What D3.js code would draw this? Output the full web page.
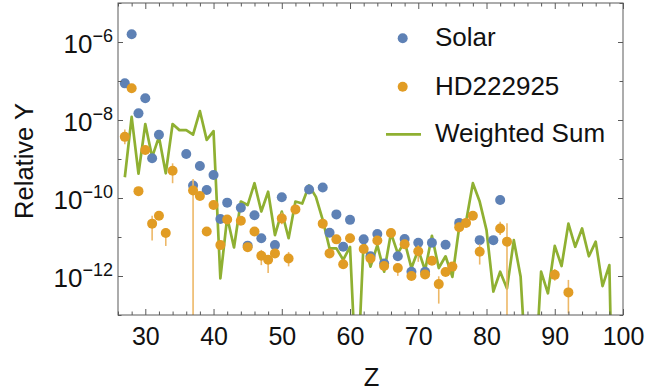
<!DOCTYPE html>
<html>
<head>
<meta charset="utf-8">
<script src="https://cdn.jsdelivr.net/npm/d3@7"></script>
<style>
  html, body { margin: 0; padding: 0; background: #fff; }
  svg { display: block; font-family: "Liberation Sans", Arial, sans-serif; }
</style>
</head>
<body>
<svg id="chart" width="671" height="392"></svg>
<script>
// Solar abundances (atomic number, relative Y)
const solarZ = [27, 28, 29, 30, 31, 32, 36, 37, 38, 39, 40, 41, 42, 44, 45, 46, 47, 49, 50, 54,
                56, 57, 58, 59, 60, 62, 63, 64, 65, 67, 68, 69, 70, 71, 72, 74, 76, 79, 81, 82];
const solarY = [8.7e-8, 1.58e-6, 1.48e-8, 3.6e-8, 1.05e-9, 4.2e-9, 1.35e-9, 2.1e-10, 6.6e-10, 1.6e-10,
                3.9e-10, 2.9e-11, 7.6e-11, 5.6e-11, 6.0e-12, 3.6e-11, 9.3e-12, 6.2e-12, 1.05e-10, 1.66e-10,
                1.86e-10, 1.29e-11, 3.8e-11, 5.6e-12, 2.75e-11, 8.7e-12, 3.2e-12, 1.2e-11, 2.1e-12, 3.2e-12,
                8.9e-12, 1.29e-12, 7.1e-12, 1.29e-12, 7.1e-12, 6.3e-12, 2.3e-11, 8.3e-12, 8.3e-12, 8.9e-11];

// HD222925 abundances with uncertainties (dex below / above)
const starZ = [27, 28, 29, 30, 31, 32, 33, 34, 37, 38, 39, 40, 41, 42, 44, 45, 46, 47, 48, 49,
               50, 51, 52, 56, 57, 58, 59, 60, 62, 63, 64, 65, 66, 67, 68, 69, 70, 71, 72, 73,
               74, 75, 76, 77, 78, 79, 82, 83, 90, 92];
const starY = [3.7e-9, 6.5e-8, 1.5e-10, 1.7e-9, 2.2e-11, 3.5e-11, 1.26e-11, 5.0e-10, 1.55e-10, 1.12e-10,
               1.38e-11, 6.6e-11, 6.2e-12, 2.8e-11, 2.6e-11, 5.5e-12, 1.38e-11, 3.3e-12, 2.6e-12, 3.8e-12,
               3.0e-11, 2.8e-12, 5.1e-11, 2.2e-11, 3.8e-12, 8.7e-12, 2.0e-12, 9.3e-12, 4.9e-12, 2.8e-12,
               8.1e-12, 1.8e-12, 1.26e-11, 1.6e-12, 6.5e-12, 1.0e-12, 4.3e-12, 1.1e-12, 2.45e-12, 6.2e-13,
               1.26e-12, 1.74e-12, 1.78e-11, 2.3e-11, 3.5e-11, 4.2e-12, 1.66e-11, 7.6e-12, 1.07e-12, 3.8e-13];
const starErrLo = [0.19, 0.1, 0.1, 0.1, 0.43, 0.1, 0.33, 0.32, 6, 0.1,
                   0.1, 0.1, 0.1, 0.1, 0.1, 0.1, 0.1, 0.24, 0.34, 0.1,
                   0.15, 0.2, 0.1, 0.1, 0.1, 0.1, 0.1, 0.1, 0.1, 0.1,
                   0.1, 0.1, 0.1, 0.2, 0.1, 0.1, 0.27, 0.1, 0.1, 0.5,
                   0.1, 0.1, 0.1, 0.1, 0.1, 0.33, 0.17, 6, 0.15, 0.54];
const starErrHi = [0.19, 0.1, 0.1, 0.1, 0.2, 0.1, 0.13, 0.19, 0.3, 0.1,
                   0.1, 0.1, 0.1, 0.1, 0.1, 0.1, 0.1, 0.15, 0.1, 0.1,
                   0.15, 0.17, 0.1, 0.1, 0.1, 0.1, 0.1, 0.1, 0.1, 0.1,
                   0.1, 0.1, 0.1, 0.1, 0.1, 0.1, 0.15, 0.1, 0.1, 0.2,
                   0.1, 0.1, 0.1, 0.1, 0.1, 0.19, 0.17, 0.47, 0.15, 0.32];

// Weighted sum of the model components
const sumZ = [27, 28, 29, 30, 31, 32, 33, 34, 35, 36, 37, 38, 39, 40, 41, 42, 43, 44, 45, 46,
              47, 48, 49, 50, 51, 52, 53, 54, 55, 56, 57, 58, 59, 60, 61, 62, 63, 64, 65, 66,
              67, 68, 69, 70, 71, 72, 73, 74, 75, 76, 77, 78, 79, 80, 81, 82, 83, 84, 85, 86,
              87, 88, 89, 90, 91, 92, 93, 94, 95, 96, 97, 98, 99];
const sumY = [3.4e-10, 1.2e-8, 4.2e-10, 7.9e-9, 1.12e-9, 3.7e-9, 4.3e-10, 7.9e-9, 5.5e-9, 5.5e-9,
              4.2e-9, 1.7e-8, 3.1e-9, 5.2e-9, 8.7e-13, 3.2e-11, 5.4e-12, 8.1e-11, 6.6e-11, 2.4e-10,
              4.5e-11, 1.45e-10, 1.12e-11, 4.5e-11, 9.3e-12, 8.1e-11, 7.2e-11, 2.1e-10, 1.07e-10, 2.75e-11,
              5.1e-12, 5.1e-12, 2.6e-12, 5.6e-12, 1e-15, 8.3e-12, 1.74e-12, 6.2e-12, 1.29e-12, 1.26e-11,
              3.8e-12, 7.6e-12, 1.6e-12, 4.7e-12, 1.4e-12, 1.07e-11, 1.6e-12, 3.2e-12, 9.5e-13, 1.8e-11,
              2.45e-11, 2.4e-10, 8.1e-11, 1.5e-11, 4.0e-13, 1.29e-12, 4.8e-13, 8.3e-12, 9.5e-13, 1e-15,
              1e-15, 1.29e-12, 3.6e-13, 5.9e-12, 1.8e-12, 2.2e-11, 5.6e-12, 1.66e-11, 3.2e-12, 7.6e-12,
              5.5e-13, 1.9e-12, 1e-20];

const xMajorTicks = [30, 40, 50, 60, 70, 80, 90, 100];
const xMinorTicks = [26, 28, 32, 34, 36, 38, 42, 44, 46, 48, 52, 54, 56, 58, 62, 64, 66, 68,
                     72, 74, 76, 78, 82, 84, 86, 88, 92, 94, 96, 98];
const yLabelExponents = [-12, -10, -8, -6];
const yMinorExponents = [-13, -11, -9, -7, -5];
const legendLabels = ["Solar", "HD222925", "Weighted Sum"];

const colors = { solar: "#5E81B5", star: "#E19C24", sum: "#8FB032", err: "#EDB867", frame: "#5a5a5a" };

const svg = d3.select("#chart");
const L = 118, R = 623, T = 3, B = 315;

const x = d3.scaleLinear().domain([26, 100]).range([L, R]);
const y = d3.scaleLog().domain([1e-13, 1e-5]).range([B, T]);

svg.append("defs").append("clipPath").attr("id", "plot-clip")
  .append("rect").attr("x", L).attr("y", T).attr("width", R - L).attr("height", B - T);

const plot = svg.append("g").attr("clip-path", "url(#plot-clip)");

// weighted sum line
const sumData = sumZ.map((z, i) => [z, sumY[i]]);
plot.append("path")
  .datum(sumData)
  .attr("fill", "none")
  .attr("stroke", colors.sum)
  .attr("stroke-width", 2.7)
  .attr("stroke-linejoin", "round")
  .attr("d", d3.line().x(d => x(d[0])).y(d => y(d[1])));

// solar points
plot.append("g").selectAll("circle")
  .data(solarZ.map((z, i) => [z, solarY[i]]))
  .join("circle")
  .attr("cx", d => x(d[0]))
  .attr("cy", d => y(d[1]))
  .attr("r", 5)
  .attr("fill", colors.solar);

// HD222925 error bars and points
const starData = starZ.map((z, i) => ({ z, v: starY[i], lo: starErrLo[i], hi: starErrHi[i] }));
plot.append("g").selectAll("line")
  .data(starData)
  .join("line")
  .attr("x1", d => x(d.z)).attr("x2", d => x(d.z))
  .attr("y1", d => y(d.v * Math.pow(10, d.hi)))
  .attr("y2", d => Math.min(B + 5, y(d.v * Math.pow(10, -d.lo))))
  .attr("stroke", colors.err)
  .attr("stroke-width", 1.6);

plot.append("g").selectAll("circle")
  .data(starData)
  .join("circle")
  .attr("cx", d => x(d.z))
  .attr("cy", d => y(d.v))
  .attr("r", 5)
  .attr("fill", colors.star);

// frame
svg.append("rect")
  .attr("x", L).attr("y", T).attr("width", R - L).attr("height", B - T)
  .attr("fill", "none").attr("stroke", colors.frame).attr("stroke-width", 1);

// ticks (drawn inward on all four sides)
function styleAxis(g) {
  g.select(".domain").remove();
  g.selectAll(".tick line").attr("stroke", colors.frame).attr("stroke-width", 1);
}
const fmtNone = () => "";

svg.append("g").attr("transform", `translate(0,${B})`)
  .call(d3.axisBottom(x).tickValues(xMajorTicks).tickSize(-6).tickPadding(12))
  .call(styleAxis)
  .call(g => g.selectAll(".tick text")
    .attr("fill", "#111").attr("font-size", 25)
    .attr("font-family", "'Liberation Sans', Arial, sans-serif"));
svg.append("g").attr("transform", `translate(0,${B})`)
  .call(d3.axisBottom(x).tickValues(xMinorTicks).tickSize(-3.5).tickFormat(fmtNone))
  .call(styleAxis);
svg.append("g").attr("transform", `translate(0,${T})`)
  .call(d3.axisTop(x).tickValues(xMajorTicks).tickSize(-6).tickFormat(fmtNone))
  .call(styleAxis);
svg.append("g").attr("transform", `translate(0,${T})`)
  .call(d3.axisTop(x).tickValues(xMinorTicks).tickSize(-3.5).tickFormat(fmtNone))
  .call(styleAxis);

const yMajorVals = yLabelExponents.map(e => Math.pow(10, e));
const yMinorVals = yMinorExponents.map(e => Math.pow(10, e));

svg.append("g").attr("transform", `translate(${L},0)`)
  .call(d3.axisLeft(y).tickValues(yMajorVals).tickSize(-5).tickFormat(fmtNone))
  .call(styleAxis);
svg.append("g").attr("transform", `translate(${L},0)`)
  .call(d3.axisLeft(y).tickValues(yMinorVals).tickSize(-3.5).tickFormat(fmtNone))
  .call(styleAxis);
svg.append("g").attr("transform", `translate(${R},0)`)
  .call(d3.axisRight(y).tickValues(yMajorVals).tickSize(-5).tickFormat(fmtNone))
  .call(styleAxis);
svg.append("g").attr("transform", `translate(${R},0)`)
  .call(d3.axisRight(y).tickValues(yMinorVals).tickSize(-3.5).tickFormat(fmtNone))
  .call(styleAxis);

// y tick labels as 10 with superscript exponent
const yLabels = svg.append("g");
yLabelExponents.forEach(e => {
  const t = yLabels.append("text")
    .attr("x", L - 5)
    .attr("y", y(Math.pow(10, e)) + 11)
    .attr("text-anchor", "end")
    .attr("font-size", 26)
    .attr("fill", "#111");
  t.append("tspan").text("10");
  t.append("tspan").attr("dy", -11).attr("font-size", 18).text("\u2212" + Math.abs(e));
});

// axis titles
svg.append("text")
  .attr("x", (L + R) / 2 + 1).attr("y", 386)
  .attr("text-anchor", "middle").attr("font-size", 25.5).attr("fill", "#111")
  .text("Z");
svg.append("text")
  .attr("transform", `translate(33,161) rotate(-90)`)
  .attr("text-anchor", "middle").attr("font-size", 25.5).attr("fill", "#111")
  .text("Relative Y");

// legend
const legend = svg.append("g");
const legendRows = [38.3, 86.7, 134.3];
legend.append("circle").attr("cx", 402.7).attr("cy", legendRows[0]).attr("r", 5).attr("fill", colors.solar);
legend.append("circle").attr("cx", 402.7).attr("cy", legendRows[1]).attr("r", 5).attr("fill", colors.star);
legend.append("line")
  .attr("x1", 386).attr("x2", 421).attr("y1", legendRows[2]).attr("y2", legendRows[2])
  .attr("stroke", colors.sum).attr("stroke-width", 2.7);
legendLabels.forEach((label, i) => {
  legend.append("text")
    .attr("x", 435).attr("y", legendRows[i] + 8)
    .attr("font-size", 26).attr("fill", "#111")
    .text(label);
});
</script>
</body>
</html>
